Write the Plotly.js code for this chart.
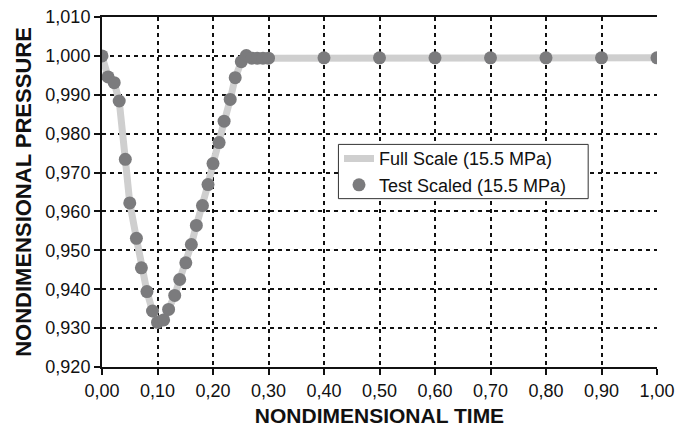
<!DOCTYPE html>
<html>
<head>
<meta charset="utf-8">
<script src="https://cdn.plot.ly/plotly-3.0.1.min.js"></script>
<style>html,body{margin:0;padding:0;background:#fff;}#chart{width:675px;height:427px;}</style>
</head>
<body>
<div id="chart"></div>
<script>
const timeValues = [0.000, 0.011, 0.022, 0.031, 0.042, 0.050, 0.062, 0.071, 0.081, 0.091, 0.100, 0.111, 0.120, 0.131, 0.140, 0.151, 0.161, 0.170, 0.181, 0.191, 0.200, 0.211, 0.220, 0.231, 0.240, 0.251, 0.260, 0.270, 0.280, 0.290, 0.300, 0.400, 0.500, 0.600, 0.700, 0.800, 0.900, 1.000];
const fullScalePressure = [1.0000, 0.9946, 0.9931, 0.9884, 0.9734, 0.9622, 0.9531, 0.9455, 0.9394, 0.9344, 0.9315, 0.9321, 0.9348, 0.9384, 0.9425, 0.9468, 0.9515, 0.9564, 0.9615, 0.9669, 0.9723, 0.9777, 0.9832, 0.9888, 0.9944, 0.9985, 1.0001, 0.9994, 0.9994, 0.9994, 0.9994, 0.9995, 0.9995, 0.9995, 0.9995, 0.9995, 0.9995, 0.9995];
const testScaledPressure = [1.0000, 0.9946, 0.9931, 0.9884, 0.9734, 0.9622, 0.9531, 0.9455, 0.9394, 0.9344, 0.9315, 0.9321, 0.9348, 0.9384, 0.9425, 0.9468, 0.9515, 0.9564, 0.9615, 0.9669, 0.9723, 0.9777, 0.9832, 0.9888, 0.9944, 0.9985, 1.0001, 0.9994, 0.9994, 0.9994, 0.9994, 0.9995, 0.9995, 0.9995, 0.9995, 0.9995, 0.9995, 0.9995];
const seriesNames = ["Full Scale (15.5 MPa)", "Test Scaled (15.5 MPa)"];
const xTickValues = [0, 0.1, 0.2, 0.3, 0.4, 0.5, 0.6, 0.7, 0.8, 0.9, 1.0];
const yTickValues = [0.92, 0.93, 0.94, 0.95, 0.96, 0.97, 0.98, 0.99, 1.0, 1.01];
const xTitle = "NONDIMENSIONAL TIME";
const yTitle = "NONDIMENSIONAL PRESSURE";

const font = "Liberation Sans, Arial, sans-serif";
const data = [
  {x: timeValues, y: fullScalePressure, mode: "lines", name: seriesNames[0], legendgroup: "a",
   line: {color: "#cfcfcf", width: 7}},
  {x: timeValues, y: testScaledPressure, mode: "markers", name: seriesNames[1], legendgroup: "b",
   marker: {color: "#7b7b7d", size: 13}}
];
const layout = {
  width: 675, height: 427,
  margin: {l: 102, r: 18, t: 17, b: 60},
  paper_bgcolor: "#fff", plot_bgcolor: "#fff",
  separators: ", ",
  font: {family: font, size: 18, color: "#111"},
  showlegend: true,
  legend: {x: 0.427, y: 0.648, xanchor: "left", yanchor: "top",
    bgcolor: "rgba(0,0,0,0)", borderwidth: 0,
    traceorder: "grouped", tracegroupgap: 0,
    font: {family: font, size: 18, color: "#111"}},
  shapes: [{type: "rect", xref: "paper", yref: "paper", x0: 0.426, x1: 0.876, y0: 0.481, y1: 0.636,
    fillcolor: "#fff", line: {color: "#333", width: 1}, layer: "above"}],
  xaxis: {range: [0, 1], tickvals: xTickValues,
    tickformat: ".2f", showline: true, linecolor: "#111", linewidth: 2, mirror: true,
    ticks: "outside", ticklen: 6, tickwidth: 2, tickcolor: "#111",
    tickfont: {family: font, size: 18, color: "#111"},
    showgrid: true, gridcolor: "#111", gridwidth: 2, griddash: "4px,4px",
    zeroline: false, automargin: false,
    title: {text: "<b>" + xTitle + "</b>", font: {family: font, size: 21, color: "#111"}, standoff: 12}},
  yaxis: {range: [0.92, 1.01], tickvals: yTickValues,
    tickformat: ".3f", showline: true, linecolor: "#111", linewidth: 2,
    ticks: "outside", ticklen: 6, tickwidth: 2, tickcolor: "#111",
    tickfont: {family: font, size: 18, color: "#111"},
    showgrid: true, gridcolor: "#111", gridwidth: 2, griddash: "4px,4px",
    zeroline: false, automargin: false,
    title: {text: "<b>" + yTitle + "</b>", font: {family: font, size: 22, color: "#111"}, standoff: 8}}
};
Plotly.newPlot("chart", data, layout, {displayModeBar: false, staticPlot: true});
</script>
</body>
</html>
